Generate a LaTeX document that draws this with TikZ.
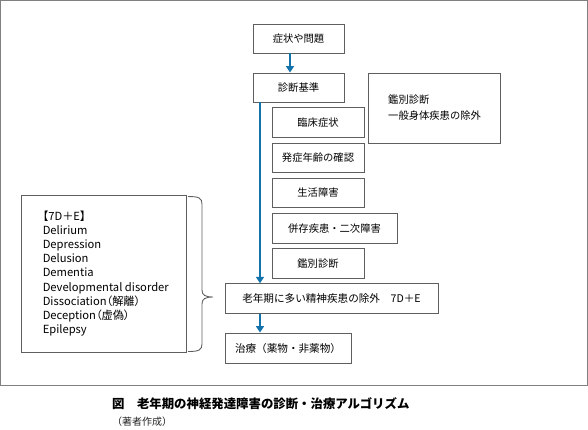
\documentclass[tikz,border=0pt]{standalone}
\usepackage{fontspec}
\newfontfamily\jp{Noto Sans CJK JP}
\newfontfamily\jpp[RawFeature=+palt]{Noto Sans CJK JP}
\usetikzlibrary{arrows.meta,calc}
\definecolor{flowblue}{RGB}{20,115,170}
\definecolor{boxgray}{RGB}{95,95,95}
\definecolor{framegray}{RGB}{128,128,128}
\tikzset{
  box/.style={draw=boxgray, line width=0.9pt, font=\jp\fontsize{10.3}{12}\selectfont, inner sep=0pt},
  flow/.style={draw=flowblue, line width=2.2pt, -{Triangle[width=8pt,length=6.5pt]}},
  brace/.style={draw=boxgray, line width=0.9pt},
}
\begin{document}
\begin{tikzpicture}[x=1pt,y=-1pt]
\useasboundingbox (0,0) rectangle (588,429);
\draw[framegray, line width=1.2pt] (0.6,0.6) rectangle (587.4,385.6);

\node[box, minimum width=91, minimum height=29] (sym) at (298.5,38.5) {症状や問題};
\node[box, minimum width=91, minimum height=29] (shin) at (298.5,87.5) {診断基準};
\node[box, minimum width=132, minimum height=70] (kanbig) at (434,108) {};
\node[font=\jp\fontsize{10.3}{16}\selectfont, align=left, anchor=west, inner sep=0pt] (kanbigtext) at (388,108) {鑑別診断\\一般身体疾患の除外};

\node[box, minimum width=92, minimum height=29.5] (rin) at (318,122.5) {臨床症状};
\node[box, minimum width=92, minimum height=29.5] (hatsu) at (318,158) {発症年齢の確認};
\node[box, minimum width=92, minimum height=29.5] (sei) at (318,193) {生活障害};
\node[box, minimum width=125, minimum height=29.5] (hei) at (334.5,228.5) {併存疾患・二次障害};
\node[box, minimum width=92, minimum height=29.5] (kan) at (318,263.5) {鑑別診断};

\node[box, minimum width=213, minimum height=29.5, font=\jp\fontsize{10.6}{12}\selectfont] (ex) at (331.5,298.5) {老年期に多い精神疾患の除外　7D＋E};
\node[box, minimum width=126, minimum height=30, font=\jp\fontsize{10.6}{12}\selectfont] (tr) at (288,348) {治療（薬物・非薬物）};

\node[box, minimum width=165, minimum height=157] (left) at (103.5,273.5) {};
\node[font=\jpp\fontsize{11.2}{14.1}\selectfont, align=left, anchor=west, inner sep=0pt] (list) at ($(left.west)+(22,0)$)
  {【7D＋E】\\Delirium\\Depression\\Delusion\\Dementia\\Developmental disorder\\Dissociation（解離）\\Deception（虚偽）\\Epilepsy};

\coordinate (xa) at (290,0);
\coordinate (xb) at (260,0);
\draw[flow] (sym.south -| xa) -- (shin.north -| xa);
\draw[flow] (shin.south -| xb) -- (ex.north -| xb);
\draw[flow] (ex.south -| xb) -- (tr.north -| xb);

\draw[brace] (188,196.5) .. controls (199,196.5) and (202,198) .. (202,204)
  -- (202,290) .. controls (202,295) and (205,297) .. (213,297)
  (213,297) .. controls (205,297) and (202,299) .. (202,304)
  -- (202,344) .. controls (202,350) and (199,351.5) .. (188,351.5);

\node[font=\jp\bfseries\fontsize{12.4}{14}\selectfont, anchor=west, inner sep=0pt] (cap) at (112,403.5) {図　老年期の神経発達障害の診断・治療アルゴリズム};
\node[font=\jp\fontsize{10}{12}\selectfont, anchor=west, inner sep=0pt, text=black!85] (src) at (112,422) {（著者作成）};
\end{tikzpicture}
\end{document}
